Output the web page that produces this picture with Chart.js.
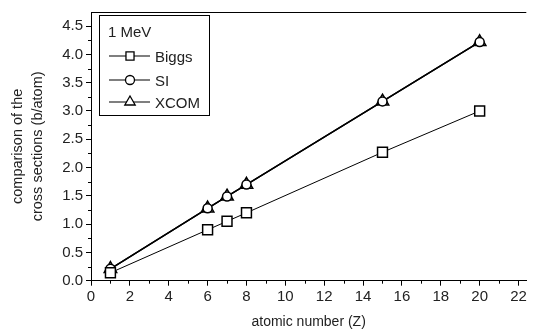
<!DOCTYPE html>
<html>
<head>
<meta charset="utf-8">
<script src="https://cdn.jsdelivr.net/npm/chart.js@4/dist/chart.umd.min.js"></script>
<style>
  html, body { margin: 0; padding: 0; background: #fff; }
  #wrap { width: 535px; height: 334px; position: relative; }
</style>
</head>
<body>
<div id="wrap"><canvas id="c" width="535" height="334"></canvas></div>
<script>
const legendTitle = '1 MeV';
const atomicNumbers = [1, 6, 7, 8, 15, 20];
const biggs = [0.14, 0.90, 1.05, 1.20, 2.27, 3.00];
const si    = [0.21, 1.28, 1.49, 1.70, 3.17, 4.22];
const xcom  = [0.21, 1.28, 1.49, 1.70, 3.17, 4.22];
const xTicks = [0, 2, 4, 6, 8, 10, 12, 14, 16, 18, 20, 22];
const xMinorTicks = [1, 3, 5, 7, 9, 11, 13, 15, 17, 19, 21];
const yTicks = [0, 0.5, 1.0, 1.5, 2.0, 2.5, 3.0, 3.5, 4.0, 4.5];
const yMinorTicks = [0.25, 0.75, 1.25, 1.75, 2.25, 2.75, 3.25, 3.75, 4.25];
const xTitle = 'atomic number (Z)';
const yTitle = ['comparison of the', 'cross sections (b/atom)'];

const FONT = "'Liberation Sans', Arial, sans-serif";
const TXT = '#222';

function pts(xs, ys) { return xs.map((x, i) => ({ x: x, y: ys[i] })); }

const legendRadius = { rect: 5.7, circle: 4.5, triangle: 6 };

const extras = {
  id: 'extras',
  afterDraw(chart) {
    const ctx = chart.ctx;
    const a = chart.chartArea;
    const xs = chart.scales.x, ys = chart.scales.y;
    ctx.save();
    ctx.strokeStyle = '#000';
    ctx.lineWidth = 1;
    // top frame line
    ctx.beginPath();
    ctx.moveTo(a.left, a.top + 0.5);
    ctx.lineTo(a.right, a.top + 0.5);
    ctx.stroke();
    // minor ticks
    ctx.beginPath();
    xMinorTicks.forEach(v => {
      const px = Math.round(xs.getPixelForValue(v)) + 0.5;
      ctx.moveTo(px, a.bottom);
      ctx.lineTo(px, a.bottom + 3);
    });
    yMinorTicks.forEach(v => {
      const py = Math.round(ys.getPixelForValue(v)) + 0.5;
      ctx.moveTo(a.left, py);
      ctx.lineTo(a.left - 3, py);
    });
    ctx.stroke();

    // legend box
    const bx = 99.5, by = 15.5, bw = 110, bh = 100;
    ctx.fillStyle = '#fff';
    ctx.fillRect(bx, by, bw, bh);
    ctx.strokeStyle = '#000';
    ctx.lineWidth = 1;
    ctx.strokeRect(bx, by, bw, bh);
    ctx.fillStyle = TXT;
    ctx.font = '15px ' + FONT;
    ctx.textBaseline = 'alphabetic';
    ctx.textAlign = 'left';
    ctx.fillText(legendTitle, 108, 36.5);
    const rows = [56, 80, 102];
    chart.data.datasets.forEach((ds, i) => {
      const y = rows[i];
      ctx.strokeStyle = '#000';
      ctx.lineWidth = 1.2;
      ctx.beginPath();
      ctx.moveTo(109, y);
      ctx.lineTo(150, y);
      ctx.stroke();
      ctx.fillStyle = '#fff';
      ctx.lineWidth = 1.3;
      Chart.helpers.drawPoint(ctx, {
        pointStyle: ds.pointStyle,
        radius: legendRadius[ds.pointStyle],
        rotation: 0,
        borderWidth: 1.3
      }, 130, y);
      ctx.fillStyle = TXT;
      ctx.fillText(ds.label, 155, y + 5.5);
    });
    ctx.restore();
  }
};

new Chart(document.getElementById('c'), {
  type: 'scatter',
  data: {
    datasets: [
      { label: 'Biggs', data: pts(atomicNumbers, biggs), showLine: true,
        borderColor: '#000', borderWidth: 1, pointStyle: 'rect', pointRadius: 7,
        pointBorderWidth: 1.5, pointBackgroundColor: '#fff', pointBorderColor: '#000' },
      { label: 'SI', data: pts(atomicNumbers, si), showLine: true,
        borderColor: '#000', borderWidth: 1.5, pointStyle: 'circle', pointRadius: 4.5,
        pointBorderWidth: 1.5, pointBackgroundColor: '#fff', pointBorderColor: '#000' },
      { label: 'XCOM', data: pts(atomicNumbers, xcom), showLine: true,
        borderColor: '#000', borderWidth: 1.5, pointStyle: 'triangle', pointRadius: 7.2,
        pointBorderWidth: 1.5, pointBackgroundColor: 'rgba(255,255,255,0)', pointBorderColor: '#000' }
    ]
  },
  options: {
    responsive: false,
    animation: false,
    devicePixelRatio: 1,
    layout: { padding: { top: 10, right: 0, left: 0, bottom: 0 } },
    plugins: { legend: { display: false }, tooltip: { enabled: false } },
    scales: {
      x: {
        type: 'linear', min: 0, max: 22.4,
        afterBuildTicks: s => { s.ticks = xTicks.map(v => ({ value: v })); },
        afterFit: s => { s.height = 53.3; },
        border: { display: true, color: '#000', width: 1 },
        grid: { display: true, drawOnChartArea: false, drawTicks: true, tickLength: 5, color: '#000' },
        ticks: { color: TXT, font: { family: FONT, size: 15 }, padding: 2, maxRotation: 0,
                 callback: v => String(v) },
        title: { display: true, text: xTitle, color: TXT, font: { family: FONT, size: 14 },
                 padding: { top: 4, bottom: 3 } }
      },
      y: {
        type: 'linear', min: 0, max: 4.75,
        afterBuildTicks: s => { s.ticks = yTicks.map(v => ({ value: v })); },
        afterFit: s => { s.width = 91; },
        border: { display: true, color: '#000', width: 1 },
        grid: { display: true, drawOnChartArea: false, drawTicks: true, tickLength: 5, color: '#000' },
        ticks: { color: TXT, font: { family: FONT, size: 15 }, padding: 3,
                 callback: v => v.toFixed(1) },
        title: { display: true, text: yTitle, color: TXT, font: { family: FONT, size: 14.5, lineHeight: 1.38 },
                 padding: { top: 8, bottom: 0 } }
      }
    }
  },
  plugins: [extras]
});
</script>
</body>
</html>
